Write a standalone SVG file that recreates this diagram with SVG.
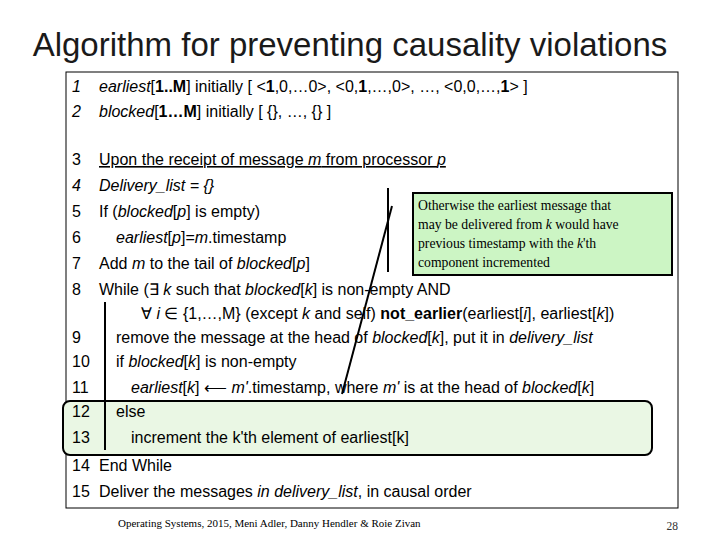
<svg xmlns="http://www.w3.org/2000/svg" width="720" height="540" viewBox="0 0 720 540">
<style>
.n{font-family:"Liberation Sans",Arial,sans-serif;font-size:16px;fill:#000}
.s{font-family:"Liberation Serif","Times New Roman",serif;font-size:13.7px;fill:#000}
.ln{stroke:#000;stroke-width:2;fill:none}
</style>
<rect width="720" height="540" fill="#fff"/>
<text x="350" y="56" text-anchor="middle" style="font-family:'Liberation Sans',Arial,sans-serif;font-size:33px;fill:#1a1a1a">Algorithm for preventing causality violations</text>
<rect id="frame" x="66" y="72" width="612" height="436" fill="#fff" stroke="#000" stroke-width="1"/>
<g id="highlight"><rect x="63" y="401" width="589" height="54" rx="7" fill="#eaf7e4" stroke="#000" stroke-width="2"/></g>
<g id="code">
<text x="72" y="92" class="n"><tspan font-style="italic">1</tspan><tspan x="99"><tspan font-style="italic">earliest</tspan>[<tspan font-weight="bold">1..M</tspan>] initially  [ &lt;<tspan font-weight="bold">1</tspan>,0,…0&gt;, &lt;0,<tspan font-weight="bold">1</tspan>,…,0&gt;, …, &lt;0,0,…,<tspan font-weight="bold">1</tspan>&gt; ]</tspan></text>
<text x="72" y="117" class="n"><tspan font-style="italic">2</tspan><tspan x="99"><tspan font-style="italic">blocked</tspan>[<tspan font-weight="bold">1…M</tspan>] initially  [ {}, …, {} ]</tspan></text>
<text x="72" y="165" class="n">3<tspan x="99" text-decoration="underline">Upon the receipt of message <tspan font-style="italic">m</tspan> from processor <tspan font-style="italic">p</tspan></tspan></text>
<text x="72" y="191" class="n" font-style="italic">4<tspan x="99">Delivery_list = {}</tspan></text>
<text x="72" y="217" class="n">5<tspan x="99">If (<tspan font-style="italic">blocked</tspan>[<tspan font-style="italic">p</tspan>] is empty)</tspan></text>
<text x="72" y="243" class="n">6<tspan x="116"><tspan font-style="italic">earliest</tspan>[<tspan font-style="italic">p</tspan>]=<tspan font-style="italic">m</tspan>.timestamp</tspan></text>
<text x="72" y="269" class="n">7<tspan x="99">Add <tspan font-style="italic">m</tspan> to the tail of <tspan font-style="italic">blocked</tspan>[<tspan font-style="italic">p</tspan>]</tspan></text>
<text x="72" y="295" class="n">8<tspan x="99">While (∃ <tspan font-style="italic">k</tspan> such that <tspan font-style="italic">blocked</tspan>[<tspan font-style="italic">k</tspan>] is non-empty AND</tspan></text>
<text x="141" y="319" class="n">∀ <tspan font-style="italic">i</tspan> ∈ {1,…,M} (except <tspan font-style="italic">k</tspan> and self) <tspan font-weight="bold">not_earlier</tspan>(earliest[<tspan font-style="italic">i</tspan>], earliest[<tspan font-style="italic">k</tspan>])</text>
<text x="72" y="343" class="n">9<tspan x="116">remove the message at the head of <tspan font-style="italic">blocked</tspan>[<tspan font-style="italic">k</tspan>], put it in <tspan font-style="italic">delivery_list</tspan></tspan></text>
<text x="72" y="367" class="n">10<tspan x="116">if <tspan font-style="italic">blocked</tspan>[<tspan font-style="italic">k</tspan>] is non-empty</tspan></text>
<text x="72" y="393" class="n">11<tspan x="131"><tspan font-style="italic">earliest</tspan>[<tspan font-style="italic">k</tspan>] ⟵ <tspan font-style="italic">m'</tspan>.timestamp, where <tspan font-style="italic">m'</tspan> is at the head of <tspan font-style="italic">blocked</tspan>[<tspan font-style="italic">k</tspan>]</tspan></text>
<text x="72" y="417" class="n">12<tspan x="116">else</tspan></text>
<text x="72" y="443" class="n">13<tspan x="131">increment the k'th element of earliest[k]</tspan></text>
<text x="72" y="471" class="n">14<tspan x="99">End While</tspan></text>
<text x="72" y="497" class="n">15<tspan x="99">Deliver the messages <tspan font-style="italic">in delivery_list</tspan>, in causal order</tspan></text>
</g>
<g id="connectors">
<line class="ln" x1="105" y1="302" x2="105" y2="450"/>
<line class="ln" x1="388" y1="188" x2="388" y2="272"/>
<line class="ln" x1="392" y1="206" x2="342" y2="394"/>
</g>
<g id="callout">
<rect x="413" y="193" width="259" height="82" fill="#ccf5c4" stroke="#000" stroke-width="2"/>
<text x="418" y="210" class="s">Otherwise the earliest message that</text>
<text x="418" y="229" class="s">may be delivered from <tspan font-style="italic">k</tspan> would have</text>
<text x="418" y="248" class="s">previous timestamp with the <tspan font-style="italic">k</tspan>'th</text>
<text x="418" y="267" class="s">component incremented</text>
</g>
<text x="118" y="527" class="s" style="font-size:11px">Operating Systems, 2015, Meni Adler, Danny Hendler &amp; Roie Zivan</text>
<text x="678" y="530" class="s" style="font-size:11.5px;fill:#333" text-anchor="end">28</text>
</svg>
